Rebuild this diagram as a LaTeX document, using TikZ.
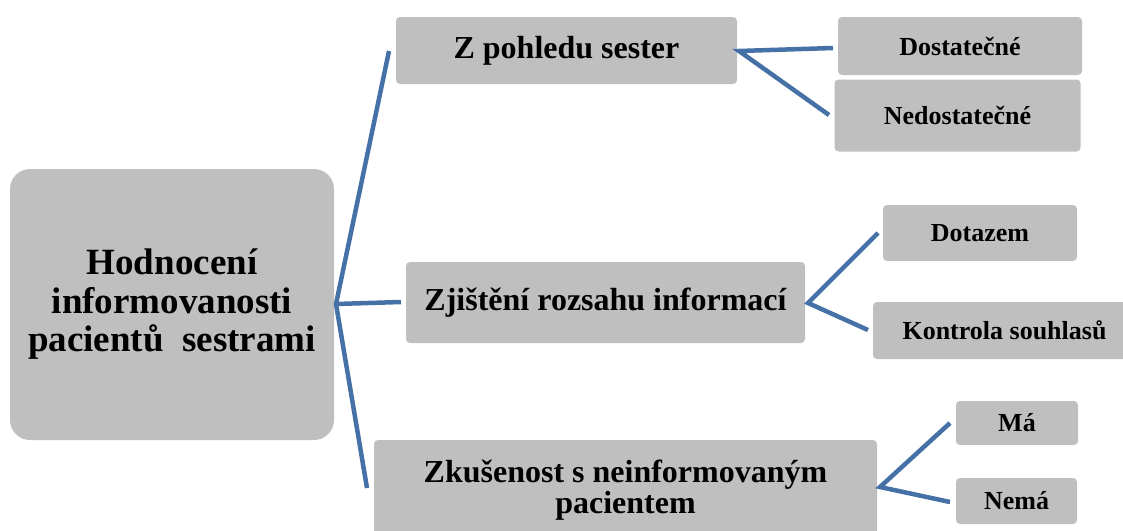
\documentclass[tikz,border=0pt]{standalone}
\usepackage{fontspec}
\setmainfont{Liberation Serif}
\definecolor{conn}{RGB}{70,113,166}
\definecolor{boxgray}{RGB}{191,191,191}
\begin{document}
\begin{tikzpicture}[x=1pt,y=-1pt,
  box/.style={draw=none,fill=boxgray,rounded corners=4pt,inner sep=0pt,align=center,font=\bfseries},
  link/.style={draw=conn,line width=4.5pt,line cap=butt,line join=miter}]
\useasboundingbox (0,0) rectangle (1123,530);
\clip (0,0) rectangle (1123,530);
% connectors first (behind boxes)
\coordinate (j0) at (336,304);
\coordinate (e1) at (389,51);
\coordinate (e2) at (401,302);
\coordinate (e3) at (367,488);
\coordinate (j1) at (739,51);
\coordinate (e11) at (833,48);
\coordinate (e12) at (829,115);
\coordinate (j2) at (808,303);
\coordinate (e21) at (878,233);
\coordinate (e22) at (868,330);
\coordinate (j3) at (880,487);
\coordinate (e31) at (950,423);
\coordinate (e32) at (950,502);
% boxes
\node[box,rounded corners=20pt,minimum width=324pt,minimum height=271pt,font=\bfseries\fontsize{37}{38.5}\selectfont] (root) at (172,304.5) {Hodnocení\\informovanosti\\pacientů\ \ sestrami};
\node[box,minimum width=341pt,minimum height=67pt,font=\bfseries\fontsize{32}{34}\selectfont] (a) at (566.5,50.5) {Z pohledu sester};
\node[box,minimum width=399pt,minimum height=81pt,font=\bfseries\fontsize{32}{34}\selectfont] (b) at (605.5,302.5) {Zjištění rozsahu informací};
\node[box,minimum width=503pt,minimum height=100pt,font=\bfseries\fontsize{32}{31}\selectfont] (c) at (625.5,490) {Zkušenost s neinformovaným\\pacientem};
\node[box,minimum width=244pt,minimum height=58pt,font=\bfseries\fontsize{26}{28}\selectfont] (a1) at (960,46) {Dostatečné};
\node[box,draw=white,line width=1pt,minimum width=247pt,minimum height=73pt,font=\bfseries\fontsize{26}{28}\selectfont] (a2) at (957.5,115.5) {Nedostatečné};
\node[box,minimum width=194pt,minimum height=56pt,font=\bfseries\fontsize{26}{28}\selectfont] (b1) at (980,233) {Dotazem};
\node[box,minimum width=263pt,minimum height=57pt,font=\bfseries\fontsize{26}{28}\selectfont] (b2) at (1004.5,330.5) {Kontrola souhlasů};
\node[box,minimum width=122pt,minimum height=44pt,font=\bfseries\fontsize{26}{28}\selectfont] (c1) at (1017,423) {Má};
\node[box,minimum width=121pt,minimum height=46pt,font=\bfseries\fontsize{26}{28}\selectfont] (c2) at (1016.5,501) {Nemá};
% connectors
\draw[link] (e1) -- (j0) -- (e3);
\draw[link] (j0) -- (e2);
\draw[link] (e11) -- (j1) -- (e12);
\draw[link] (e21) -- (j2) -- (e22);
\draw[link] (e31) -- (j3) -- (e32);
\end{tikzpicture}
\end{document}
